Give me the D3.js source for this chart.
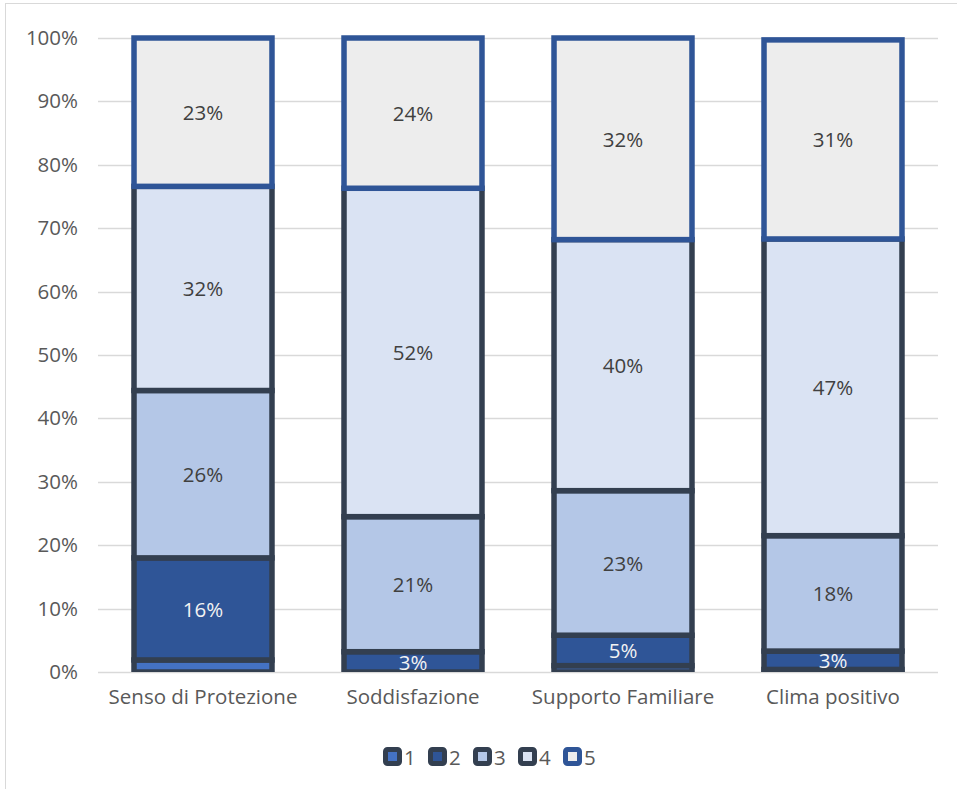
<!DOCTYPE html>
<html>
<head>
<meta charset="utf-8">
<script src="https://cdn.jsdelivr.net/npm/d3@7"></script>
<style>
  html, body { margin: 0; padding: 0; background: #fff; }
  svg { display: block; }
  text { font-family: "Open Sans", sans-serif; }
</style>
</head>
<body>
<svg id="chart" width="957" height="789"></svg>
<script>
// ---- data ----
const categories = ["Senso di Protezione", "Soddisfazione", "Supporto Familiare", "Clima positivo"];
const seriesNames = ["1", "2", "3", "4", "5"];
const s1 = [0.019, 0.000, 0.010, 0.004];
const s2 = [0.161, 0.032, 0.048, 0.029];
const s3 = [0.264, 0.213, 0.228, 0.182];
const s4 = [0.322, 0.518, 0.396, 0.468];
const s5 = [0.234, 0.237, 0.318, 0.314];
const yTicks = [0, 0.1, 0.2, 0.3, 0.4, 0.5, 0.6, 0.7, 0.8, 0.9, 1.0];

const seriesValues = [s1, s2, s3, s4, s5];
const fills   = ["#4472C4", "#2F5597", "#B4C7E7", "#DAE3F3", "#EDEDED"];
const strokes = ["#333F50", "#333F50", "#333F50", "#333F50", "#2F5597"];
const labelColors = [null, "#F2F2F2", "#404040", "#404040", "#404040"];
const FONT = "'Open Sans', sans-serif";
const FS = "20.5px";

const svg = d3.select("#chart");

// chart frame (left/top visible)
svg.append("rect").attr("x", 5.5).attr("y", 3.5).attr("width", 1000).attr("height", 1000)
  .attr("fill", "none").attr("stroke", "#D9D9D9").attr("stroke-width", 1);

const x = d3.scaleBand().domain(categories).range([98, 938]).paddingInner(0.343).paddingOuter(0.1715);
const y = d3.scaleLinear().domain([0, 1]).range([672, 38]);

// gridlines
svg.append("g").selectAll("line").data(yTicks).join("line")
  .attr("x1", 98).attr("x2", 938)
  .attr("y1", d => Math.round(y(d)) + 0.5).attr("y2", d => Math.round(y(d)) + 0.5)
  .attr("stroke", "#D9D9D9").attr("stroke-width", 1.5);

// y axis labels
const yAxis = d3.axisLeft(y).tickValues(yTicks).tickFormat(d3.format(".0%")).tickSize(0).tickPadding(0);
const gy = svg.append("g").attr("transform", "translate(78,0)").call(yAxis);
gy.select(".domain").remove();
gy.selectAll("text").attr("fill", "#595959").style("font-size", FS).style("font-family", FONT);

// x axis labels
const xAxis = d3.axisBottom(x).tickSize(0).tickPadding(0);
const gx = svg.append("g").attr("transform", "translate(0,689)").call(xAxis);
gx.select(".domain").remove();
gx.selectAll("text").attr("fill", "#595959").style("font-size", FS).style("font-family", FONT);

// stack
const rows = categories.map((c, i) => {
  const o = { cat: c };
  seriesNames.forEach((s, k) => o[s] = seriesValues[k][i]);
  return o;
});
const stacked = d3.stack().keys(seriesNames)(rows);

// clip
svg.append("clipPath").attr("id", "plotclip").append("rect")
  .attr("x", 0).attr("y", y(1) - 4).attr("width", 957).attr("height", y(0) - y(1) + 4);

const plot = svg.append("g").attr("clip-path", "url(#plotclip)");
stacked.forEach((layer, k) => {
  plot.append("g").selectAll("rect").data(layer).join("rect")
    .attr("x", d => x(d.data.cat))
    .attr("width", x.bandwidth())
    .attr("y", d => y(d[1]))
    .attr("height", d => y(d[0]) - y(d[1]))
    .attr("fill", fills[k])
    .attr("stroke", strokes[k])
    .attr("stroke-width", 5.5);
});

// labels
const fmt = d3.format(".0%");
stacked.forEach((layer, k) => {
  if (!labelColors[k]) return;
  svg.append("g").selectAll("text").data(layer).join("text")
    .attr("x", d => x(d.data.cat) + x.bandwidth() / 2)
    .attr("y", d => (y(d[0]) + y(d[1])) / 2)
    .attr("text-anchor", "middle")
    .attr("dominant-baseline", "central")
    .attr("fill", labelColors[k])
    .style("font-size", FS).style("font-family", FONT)
    .text(d => fmt(d[1] - d[0]));
});

// legend
const legendX = [383, 428, 473, 518, 563];
const lg = svg.append("g").selectAll("g").data(seriesNames).join("g")
  .attr("transform", (d, i) => `translate(${legendX[i]},747)`);
lg.append("rect").attr("x", 2.5).attr("y", 2.5).attr("width", 14).attr("height", 14).attr("rx", 2)
  .attr("fill", (d, i) => fills[i]).attr("stroke", (d, i) => strokes[i]).attr("stroke-width", 5);
lg.append("text").attr("x", 21).attr("y", 10).attr("dominant-baseline", "central")
  .attr("fill", "#595959").style("font-size", FS).style("font-family", FONT).text(d => d);
</script>
</body>
</html>
